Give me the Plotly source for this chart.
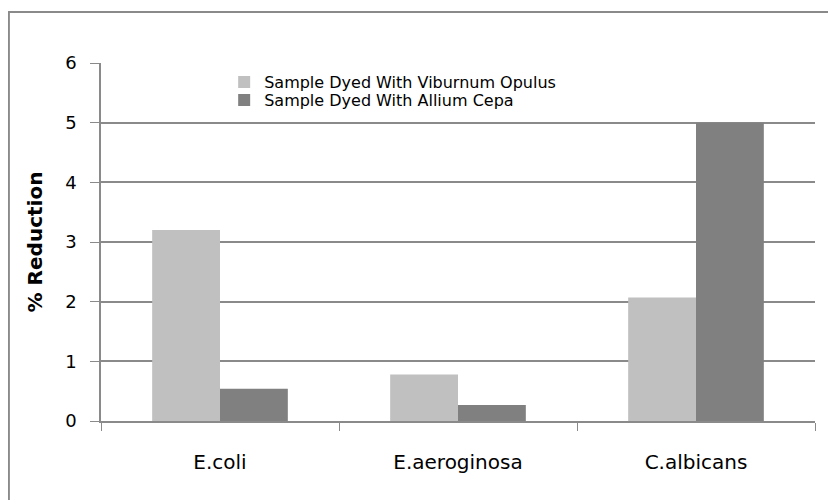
import plotly.graph_objects as go

categories = ["E.coli", "E.aeroginosa", "C.albicans"]
series_names = ["Sample Dyed With Viburnum Opulus", "Sample Dyed With Allium Cepa"]
viburnum = [3.2, 0.78, 2.07]
allium = [0.54, 0.27, 5.0]
colors = ["#C0C0C0", "#808080"]
y_ticks = [0, 1, 2, 3, 4, 5, 6]

FONT = "DejaVu Sans"
AX = "#8a8a8a"

fig = go.Figure()
fig.add_trace(go.Bar(x=categories, y=viburnum, name=series_names[0], legend="legend",
                     marker=dict(color=colors[0], line=dict(width=0))))
fig.add_trace(go.Bar(x=categories, y=allium, name=series_names[1], legend="legend2",
                     marker=dict(color=colors[1], line=dict(width=0))))

leg_common = dict(xanchor="left", yanchor="top", bgcolor="rgba(0,0,0,0)",
                  font=dict(size=16, family=FONT), itemwidth=30)

fig.update_layout(
    width=828, height=492,
    barmode="group", bargap=0.43, bargroupgap=0,
    paper_bgcolor="white", plot_bgcolor="white",
    margin=dict(l=93, r=21, t=55, b=79),
    font=dict(family=FONT, color="black"),
    showlegend=True,
    legend=dict(x=0.1725, y=0.994, **leg_common),
    legend2=dict(x=0.1725, y=0.944, **leg_common),
    xaxis=dict(type="category", tickson="boundaries", ticks="outside", ticklen=8,
               tickcolor=AX, showline=True, linecolor=AX, linewidth=1.5,
               showgrid=False, tickfont=dict(size=20, family=FONT), ticklabelstandoff=22),
    yaxis=dict(range=[0, 6], tickvals=y_ticks, ticks="outside", ticklen=9,
               tickcolor=AX, showline=True, linecolor=AX, linewidth=1.5,
               showgrid=True, gridcolor=AX, gridwidth=1.5, zeroline=False,
               tickfont=dict(size=18, family=FONT), ticklabelstandoff=10,
               title=dict(text="<b>% Reduction</b>", font=dict(size=20, family=FONT), standoff=17)),
    shapes=[dict(type="rect", xref="paper", yref="paper", x0=-0.129, x1=1.1, y0=-0.3, y1=1.1425,
                 line=dict(color=AX, width=2), fillcolor="rgba(0,0,0,0)", layer="below")],
)

fig.write_html("out.html")
